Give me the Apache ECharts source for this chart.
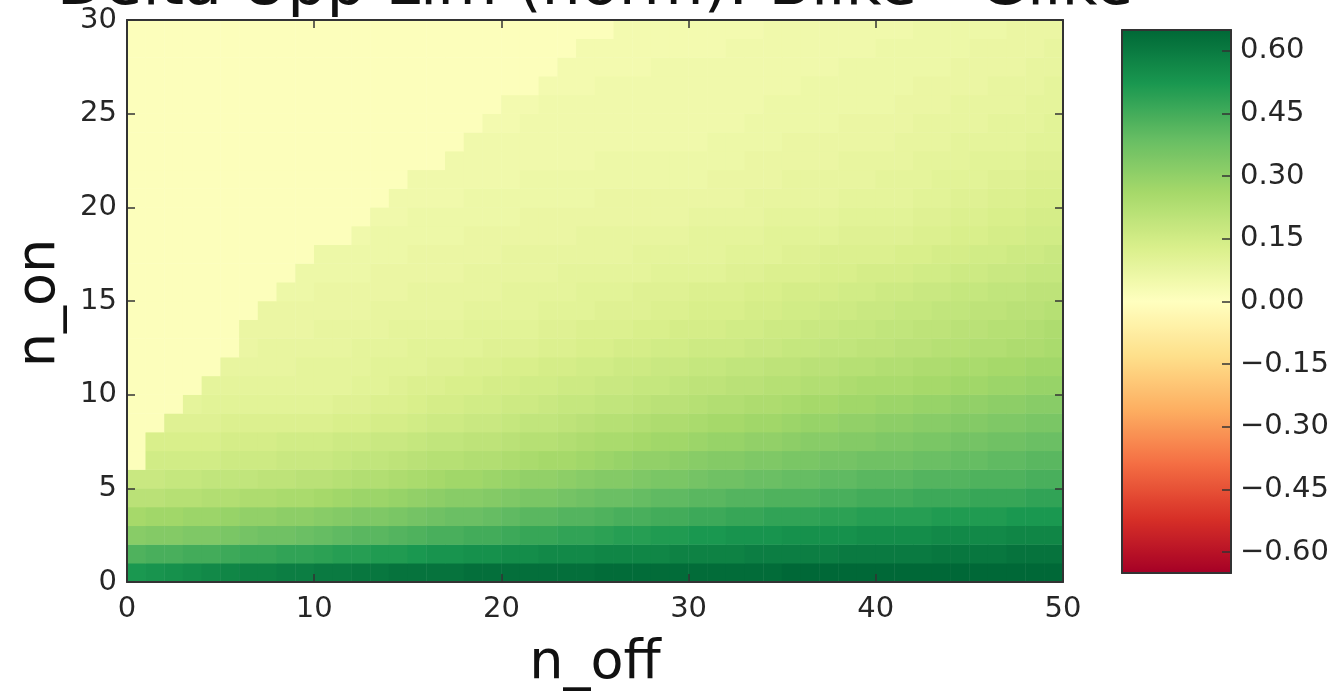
<!DOCTYPE html>
<html><head><meta charset="utf-8">
<script src="https://cdn.jsdelivr.net/npm/echarts@6/dist/echarts.min.js"></script>
<style>html,body{margin:0;padding:0;background:#fff}#c{width:1338px;height:693px}</style>
</head><body><div id="c"></div>
<script>
// cell left edges
const nOffCells = [0,1,2,3,4,5,6,7,8,9,10,11,12,13,14,15,16,17,18,19,20,21,22,23,24,25,26,27,28,29,30,31,32,33,34,35,36,37,38,39,40,41,42,43,44,45,46,47,48,49];
const nOnCells = [0,1,2,3,4,5,6,7,8,9,10,11,12,13,14,15,16,17,18,19,20,21,22,23,24,25,26,27,28,29];
const xTicks = [0,10,20,30,40,50];
const yTicks = [0,5,10,15,20,25,30];
const cbTicks = [-0.6,-0.45,-0.3,-0.15,0,0.15,0.3,0.45,0.6];
const cbMin = -0.65, cbMax = 0.65;
const titleText = 'Delta Upp Lim (norm): Blike - Glike';

// values, one array per n_on row (n_off = 0..49)
const on00 = [.52,.53,.54,.55,.56,.57,.58,.58,.59,.59, .60,.60,.61,.61,.62,.62,.62,.62,.63,.63, .63,.63,.63,.63,.63,.64,.64,.64,.64,.64, .64,.64,.64,.64,.64,.65,.65,.65,.65,.65, .65,.65,.65,.65,.65,.65,.65,.65,.65,.65];
const on01 = [.43,.44,.44,.45,.45,.46,.47,.47,.48,.48, .49,.50,.50,.51,.51,.52,.53,.53,.54,.54, .55,.55,.56,.56,.56,.57,.57,.57,.57,.58, .58,.58,.58,.59,.59,.59,.59,.59,.60,.60, .60,.60,.60,.61,.61,.61,.61,.62,.62,.62];
const on02 = [.32,.33,.33,.34,.34,.35,.36,.37,.37,.38, .39,.40,.41,.41,.42,.43,.44,.44,.45,.45, .46,.47,.47,.48,.48,.49,.50,.50,.51,.51, .52,.52,.53,.53,.53,.54,.54,.54,.54,.55, .55,.55,.55,.56,.56,.56,.56,.57,.57,.57];
const on03 = [.26,.27,.27,.28,.28,.29,.30,.30,.31,.31, .32,.33,.34,.34,.35,.36,.37,.38,.38,.39, .40,.41,.41,.42,.42,.43,.44,.44,.45,.45, .46,.46,.47,.47,.48,.48,.48,.49,.49,.50, .50,.50,.50,.51,.51,.51,.51,.52,.52,.52];
const on04 = [.21,.21,.22,.22,.23,.23,.24,.24,.25,.25, .26,.27,.28,.28,.29,.30,.31,.32,.32,.33, .34,.35,.35,.36,.37,.38,.38,.39,.40,.40, .41,.41,.42,.42,.43,.43,.43,.44,.44,.45, .45,.45,.46,.46,.46,.47,.47,.47,.48,.48];
const on05 = [.17,.17,.18,.18,.19,.19,.19,.20,.20,.21, .21,.22,.23,.23,.24,.25,.26,.27,.27,.28, .29,.30,.30,.31,.32,.33,.33,.34,.35,.35, .36,.37,.37,.38,.38,.39,.39,.40,.40,.41, .41,.41,.42,.42,.42,.43,.43,.43,.44,.44];
const on06 = [.01,.15,.15,.15,.15,.16,.16,.16,.17,.17, .17,.18,.19,.19,.20,.21,.22,.22,.23,.23, .24,.25,.26,.26,.27,.28,.29,.30,.30,.31, .32,.33,.33,.34,.34,.35,.35,.36,.36,.37, .37,.37,.38,.38,.39,.39,.40,.40,.41,.41];
const on07 = [.01,.13,.13,.13,.13,.14,.14,.14,.15,.15, .15,.16,.16,.17,.17,.18,.19,.19,.20,.20, .21,.22,.22,.23,.24,.25,.25,.26,.27,.27, .28,.29,.29,.30,.30,.31,.32,.32,.33,.33, .34,.34,.35,.35,.36,.36,.37,.37,.38,.38];
const on08 = [.01,.01,.11,.11,.11,.12,.12,.12,.12,.12, .12,.13,.13,.14,.14,.15,.16,.16,.17,.17, .18,.19,.19,.20,.21,.22,.22,.23,.24,.24, .25,.26,.26,.27,.27,.28,.29,.29,.30,.30, .31,.31,.32,.32,.33,.33,.34,.34,.35,.35];
const on09 = [.01,.01,.01,.09,.10,.10,.10,.10,.10,.10, .10,.11,.11,.12,.12,.13,.14,.14,.15,.15, .16,.16,.17,.18,.18,.19,.19,.20,.21,.21, .22,.23,.23,.24,.24,.25,.26,.26,.27,.27, .28,.28,.29,.29,.30,.30,.31,.31,.32,.32];
const on10 = [.01,.01,.01,.01,.09,.09,.09,.09,.09,.09, .09,.09,.10,.10,.11,.12,.12,.13,.13,.14, .14,.15,.15,.16,.16,.17,.17,.18,.18,.19, .20,.20,.21,.21,.22,.22,.23,.23,.24,.25, .25,.25,.26,.26,.27,.27,.28,.28,.29,.29];
const on11 = [.01,.01,.01,.01,.01,.08,.08,.08,.08,.09, .09,.09,.09,.10,.10,.10,.11,.11,.12,.12, .13,.13,.14,.14,.15,.15,.16,.16,.17,.17, .18,.18,.19,.19,.20,.20,.21,.21,.22,.22, .23,.23,.24,.24,.25,.25,.26,.26,.27,.27];
const on12 = [.01,.01,.01,.01,.01,.01,.07,.08,.08,.08, .08,.08,.09,.09,.09,.10,.10,.10,.10,.11, .11,.11,.12,.12,.13,.13,.14,.14,.15,.15, .16,.16,.16,.17,.17,.18,.18,.19,.19,.20, .20,.21,.21,.22,.22,.23,.23,.24,.24,.25];
const on13 = [.01,.01,.01,.01,.01,.01,.07,.07,.07,.07, .08,.08,.08,.08,.09,.09,.09,.09,.10,.10, .10,.10,.11,.11,.12,.12,.12,.13,.13,.14, .14,.14,.15,.15,.16,.16,.17,.17,.18,.18, .19,.19,.20,.20,.21,.21,.22,.22,.23,.24];
const on14 = [.01,.01,.01,.01,.01,.01,.01,.07,.07,.07, .07,.07,.07,.08,.08,.08,.08,.08,.09,.09, .09,.09,.10,.10,.10,.11,.11,.11,.12,.12, .13,.13,.13,.14,.14,.15,.15,.16,.16,.17, .17,.18,.18,.19,.19,.20,.20,.21,.21,.22];
const on15 = [.01,.01,.01,.01,.01,.01,.01,.01,.06,.06, .07,.07,.07,.07,.07,.08,.08,.08,.08,.08, .09,.09,.09,.09,.10,.10,.10,.11,.11,.11, .12,.12,.12,.13,.13,.14,.14,.14,.15,.15, .16,.16,.17,.17,.18,.18,.19,.19,.20,.20];
const on16 = [.01,.01,.01,.01,.01,.01,.01,.01,.01,.06, .06,.06,.06,.07,.07,.07,.07,.07,.08,.08, .08,.08,.08,.09,.09,.09,.09,.09,.10,.10, .10,.10,.11,.11,.12,.12,.12,.13,.13,.14, .14,.14,.15,.15,.16,.16,.17,.17,.18,.18];
const on17 = [.01,.01,.01,.01,.01,.01,.01,.01,.01,.01, .06,.06,.06,.06,.06,.07,.07,.07,.07,.07, .08,.08,.08,.08,.08,.08,.08,.09,.09,.09, .09,.09,.10,.10,.10,.11,.11,.12,.12,.12, .12,.13,.13,.14,.14,.15,.15,.16,.16,.17];
const on18 = [.01,.01,.01,.01,.01,.01,.01,.01,.01,.01, .01,.01,.05,.06,.06,.06,.06,.06,.07,.07, .07,.07,.07,.07,.08,.08,.08,.08,.08,.08, .09,.09,.09,.09,.10,.10,.10,.10,.11,.11, .11,.11,.12,.12,.13,.13,.14,.14,.15,.15];
const on19 = [.01,.01,.01,.01,.01,.01,.01,.01,.01,.01, .01,.01,.01,.05,.05,.06,.06,.06,.06,.06, .06,.07,.07,.07,.07,.07,.07,.07,.07,.07, .08,.08,.08,.08,.09,.09,.09,.09,.10,.10, .10,.10,.11,.11,.12,.12,.13,.13,.14,.14];
const on20 = [.01,.01,.01,.01,.01,.01,.01,.01,.01,.01, .01,.01,.01,.01,.05,.05,.05,.05,.06,.06, .06,.06,.06,.06,.06,.07,.07,.07,.07,.07, .07,.07,.07,.08,.08,.08,.08,.08,.09,.09, .09,.09,.10,.10,.11,.11,.12,.12,.13,.13];
const on21 = [.01,.01,.01,.01,.01,.01,.01,.01,.01,.01, .01,.01,.01,.01,.01,.05,.05,.05,.05,.05, .05,.06,.06,.06,.06,.06,.06,.06,.06,.06, .06,.07,.07,.07,.07,.08,.08,.08,.08,.08, .09,.09,.09,.10,.10,.10,.11,.11,.12,.12];
const on22 = [.01,.01,.01,.01,.01,.01,.01,.01,.01,.01, .01,.01,.01,.01,.01,.01,.01,.05,.05,.05, .05,.05,.05,.05,.05,.06,.06,.06,.06,.06, .06,.06,.06,.07,.07,.07,.07,.07,.08,.08, .08,.08,.09,.09,.09,.10,.10,.10,.11,.11];
const on23 = [.01,.01,.01,.01,.01,.01,.01,.01,.01,.01, .01,.01,.01,.01,.01,.01,.01,.01,.05,.05, .05,.05,.05,.05,.05,.05,.05,.05,.05,.05, .05,.06,.06,.06,.06,.07,.07,.07,.07,.07, .07,.08,.08,.08,.09,.09,.09,.09,.10,.10];
const on24 = [.01,.01,.01,.01,.01,.01,.01,.01,.01,.01, .01,.01,.01,.01,.01,.01,.01,.01,.01,.04, .04,.05,.05,.05,.05,.05,.05,.05,.05,.05, .05,.05,.05,.06,.06,.06,.06,.06,.07,.07, .07,.07,.08,.08,.08,.08,.09,.09,.09,.10];
const on25 = [.01,.01,.01,.01,.01,.01,.01,.01,.01,.01, .01,.01,.01,.01,.01,.01,.01,.01,.01,.01, .04,.04,.05,.05,.05,.05,.05,.05,.05,.05, .05,.05,.05,.05,.06,.06,.06,.06,.06,.06, .06,.07,.07,.07,.08,.08,.08,.08,.09,.09];
const on26 = [.01,.01,.01,.01,.01,.01,.01,.01,.01,.01, .01,.01,.01,.01,.01,.01,.01,.01,.01,.01, .01,.01,.04,.04,.04,.05,.05,.05,.05,.05, .05,.05,.05,.05,.05,.05,.06,.06,.06,.06, .06,.06,.07,.07,.07,.07,.08,.08,.08,.09];
const on27 = [.01,.01,.01,.01,.01,.01,.01,.01,.01,.01, .01,.01,.01,.01,.01,.01,.01,.01,.01,.01, .01,.01,.01,.04,.04,.04,.04,.04,.05,.05, .05,.05,.05,.05,.05,.05,.05,.05,.06,.06, .06,.06,.06,.06,.07,.07,.07,.07,.08,.08];
const on28 = [.01,.01,.01,.01,.01,.01,.01,.01,.01,.01, .01,.01,.01,.01,.01,.01,.01,.01,.01,.01, .01,.01,.01,.01,.04,.04,.04,.04,.04,.04, .04,.04,.05,.05,.05,.05,.05,.05,.05,.05, .06,.06,.06,.06,.06,.07,.07,.07,.07,.08];
const on29 = [.01,.01,.01,.01,.01,.01,.01,.01,.01,.01, .01,.01,.01,.01,.01,.01,.01,.01,.01,.01, .01,.01,.01,.01,.01,.01,.04,.04,.04,.04, .04,.04,.04,.04,.05,.05,.05,.05,.05,.05, .05,.05,.06,.06,.06,.06,.06,.07,.07,.07];

const rows = [on00,on01,on02,on03,on04,on05,on06,on07,on08,on09,on10,on11,on12,on13,on14,on15,on16,on17,on18,on19,on20,on21,on22,on23,on24,on25,on26,on27,on28,on29];
const heatData = [];
rows.forEach((r, j) => r.forEach((v, i) => heatData.push([nOffCells[i], nOnCells[j], v])));

const RdYlGn = ['#a50026','#d73027','#f46d43','#fdae61','#fee08b','#ffffbf','#d9ef8b','#a6d96a','#66bd63','#1a9850','#006837'];
const FONT = 'DejaVu Sans';
const TXT = '#262626';
const frameLine = {show:true, onZero:false, lineStyle:{color:'#333', width:2}};
const tick = (show, len) => ({show, inside:true, length:len||8, lineStyle:{color:'#333', width:1.5}});
const lbl = (m) => ({fontFamily:FONT, fontSize:29, color:TXT, margin:m});
const PLOT = {left:127, top:20, width:936, height:562};
const CB = {left:1122, top:30, width:109, height:543};

const chart = echarts.init(document.getElementById('c'), null, {renderer:'canvas'});
chart.setOption({
  animation:false,
  backgroundColor:'#fff',
  grid:[
    Object.assign({containLabel:false}, PLOT),
    Object.assign({containLabel:false}, PLOT),
    Object.assign({containLabel:false}, CB)
  ],
  xAxis:[
    {gridIndex:0, type:'category', data:nOffCells, show:false},
    {gridIndex:1, type:'value', min:xTicks[0], max:xTicks[xTicks.length-1], interval:10, position:'bottom', z:10,
      axisLine:frameLine, axisTick:tick(true), axisLabel:lbl(13), splitLine:{show:false}},
    {gridIndex:1, type:'value', min:xTicks[0], max:xTicks[xTicks.length-1], interval:10, position:'top', z:10,
      axisLine:frameLine, axisTick:tick(true), axisLabel:{show:false}, splitLine:{show:false}},
    {gridIndex:2, type:'value', min:0, max:1, position:'bottom', z:10,
      axisLine:frameLine, axisTick:{show:false}, axisLabel:{show:false}, splitLine:{show:false}},
    {gridIndex:2, type:'value', min:0, max:1, position:'top', z:10,
      axisLine:frameLine, axisTick:{show:false}, axisLabel:{show:false}, splitLine:{show:false}}
  ],
  yAxis:[
    {gridIndex:0, type:'category', data:nOnCells, show:false},
    {gridIndex:1, type:'value', min:yTicks[0], max:yTicks[yTicks.length-1], interval:5, position:'left', z:10,
      axisLine:frameLine, axisTick:tick(true), axisLabel:lbl(10), splitLine:{show:false}},
    {gridIndex:1, type:'value', min:yTicks[0], max:yTicks[yTicks.length-1], interval:5, position:'right', z:10,
      axisLine:frameLine, axisTick:tick(true), axisLabel:{show:false}, splitLine:{show:false}},
    {gridIndex:2, type:'value', min:cbMin, max:cbMax, position:'left', z:10,
      axisLine:frameLine, axisTick:{show:false}, axisLabel:{show:false}, splitLine:{show:false}},
    {gridIndex:2, type:'value', min:cbMin, max:cbMax, position:'right', z:10,
      axisLine:frameLine,
      axisTick:Object.assign(tick(true, 9), {customValues:cbTicks}),
      axisLabel:Object.assign(lbl(9), {customValues:cbTicks,
        formatter:(v)=> (v < -1e-9 ? '\u2212' : '') + Math.abs(v).toFixed(2)}),
      splitLine:{show:false}}
  ],
  visualMap:{
    type:'continuous', min:cbMin, max:cbMax, seriesIndex:0, dimension:2,
    calculable:false, hoverLink:false, orient:'vertical',
    left:CB.left, top:CB.top, itemWidth:CB.width, itemHeight:CB.height, padding:0,
    inRange:{color:RdYlGn}, textStyle:{color:'transparent'}
  },
  series:[{
    type:'heatmap', xAxisIndex:0, yAxisIndex:0, data:heatData,
    itemStyle:{borderWidth:0}, emphasis:{disabled:true}, progressive:0
  }],
  graphic:[
    {type:'text', z:20, style:{text:titleText, x:595, y:-12, align:'center', verticalAlign:'middle',
      fontFamily:FONT, fontSize:62, fill:'#111'}},
    {type:'text', z:20, style:{text:'n_off', x:595, y:664, align:'center', verticalAlign:'middle',
      fontFamily:FONT, fontSize:54, fill:'#111'}},
    {type:'text', z:20, x:40, y:303, rotation:Math.PI/2,
      style:{text:'n_on', x:0, y:0, align:'center', verticalAlign:'middle',
      fontFamily:FONT, fontSize:54, fill:'#111'}}
  ]
});
</script>
</body></html>
